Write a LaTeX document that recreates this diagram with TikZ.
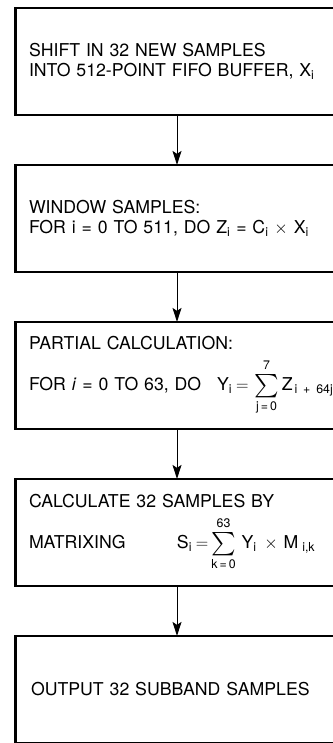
\documentclass[tikz,border=0pt]{standalone}
\usepackage{amsmath}
\usepackage{fontspec}
\setmainfont{TeX Gyre Heros}
\usetikzlibrary{positioning,arrows.meta}
\newcommand{\ix}[2]{\ensuremath{\text{#1}_{\text{#2}}}}
\newcommand{\bigsum}{\mathop{\vcenter{\hbox{\scalebox{1.35}{$\sum$}}}}\limits}
\newcommand{\sumlim}[2]{\raisebox{#1}{$\scriptstyle\text{#2}$}}

\begin{document}
\begin{tikzpicture}[x=1pt, y=1pt,
    flowbox/.style={draw, line width=2.5pt, outer sep=0pt, minimum height=107pt,
      text width=296pt, inner xsep=13.5pt, align=left,
      font=\fontsize{17.7}{20.5}\selectfont},
    >={Stealth[length=14pt, width=9pt, inset=3pt]}]
  \useasboundingbox (0,0) rectangle (332,-743);

  \node[flowbox] (shift) at (177,-61.4)
    {SHIFT IN 32 NEW SAMPLES\\ INTO 512-POINT FIFO BUFFER, \ix{X}{i}};
  \node[flowbox, below=50pt of shift] (window)
    {WINDOW SAMPLES:\\ FOR i = 0 TO 511, DO \ix{Z}{i} = \ix{C}{i} $\times$ \ix{X}{i}};
  \node[flowbox, below=50pt of window] (partial)
    {PARTIAL CALCULATION:\\[8pt]
     \mbox{\hbox spread 10pt{FOR \textit{i} = 0 TO 63, DO} $\text{Y}_\text{i} \mskip4mu{=}\mskip3mu \bigsum_{\sumlim{-2pt}{j\,=\,0}}^{\sumlim{2pt}{7}} \text{Z}_{\,\text{i + 64j}}$}};
  \node[flowbox, below=50pt of partial] (matrix)
    {CALCULATE 32 SAMPLES BY\\[8pt]
     \mbox{\makebox[148pt][l]{MATRIXING}$\text{S}_\text{i} \mskip4mu{=}\bigsum_{\sumlim{-2pt}{k\,=\,0}}^{\sumlim{2pt}{63}} \mskip3mu\text{Y}_\text{i} \mskip8mu{\times}\mskip6mu \text{M}_{\,\,\text{i,k}}$}};
  \node[flowbox, below=50pt of matrix] (output)
    {\hspace{2pt}OUTPUT 32 SUBBAND SAMPLES};

  \foreach \a/\b in {shift/window, window/partial, partial/matrix, matrix/output}{
    \draw[->, line width=1pt] (\a) -- (\b);
  }
\end{tikzpicture}
\end{document}
